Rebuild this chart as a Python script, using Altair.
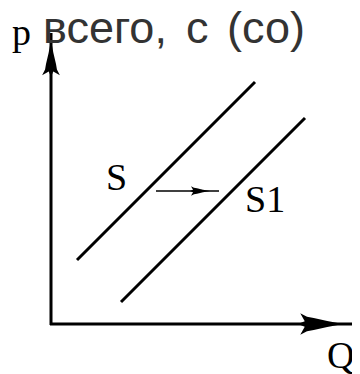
import altair as alt
import pandas as pd

# Schematic supply shift diagram (units: abstract Q / P)
seg_names = ["S", "S1", "axisP", "axisQ"]
seg_q1 = [1.3, 3.5, 0.0, -0.05]
seg_p1 = [3.2, 1.1, -0.05, 0.0]
seg_q2 = [10.2, 12.7, 0.0, 15.1]
seg_p2 = [12.1, 10.3, 14.55, 0.0]

shift_q1 = [5.25]
shift_p1 = [6.65]
shift_q2 = [8.4]
shift_p2 = [6.65]

head_names = ["Q", "P", "shift"]
head_q = [13.475, 0.0, 7.45]
head_p = [0.0, 13.275, 6.65]
head_size = [2025, 1369, 400]
head_angle = [0, 270, 0]

label_text = ["S", "S1", "Q", "p"]
label_q = [2.75, 9.7, 13.8, -1.95]
label_p = [6.7, 5.6, -2.2, 13.95]

# title "всего, с (со)" in three word pieces
title_text = ["всего,", "с", "(со)"]
title_q = [-0.4, 6.75, 8.8]
title_p = [14.05, 14.05, 14.05]

W, H = 344, 366
xs = alt.Scale(domain=[-2.15, 15.05], nice=False, zero=False)
ys = alt.Scale(domain=[-2.5, 15.8], nice=False, zero=False)

segs = pd.DataFrame({"name": seg_names, "q1": seg_q1, "p1": seg_p1, "q2": seg_q2, "p2": seg_p2})
shift = pd.DataFrame({"q1": shift_q1, "p1": shift_p1, "q2": shift_q2, "p2": shift_p2})
heads = pd.DataFrame({"name": head_names, "q": head_q, "p": head_p, "size": head_size, "angle": head_angle})
labels = pd.DataFrame({"text": label_text, "q": label_q, "p": label_p})
titles = pd.DataFrame({"text": title_text, "q": title_q, "p": title_p})

ARROW = ("M1,0 L0.3,-0.13 L-0.3,-0.27 L-0.6,-0.32 L-0.9,-0.48 L-0.7,-0.12 L-1,0 "
         "L-0.7,0.12 L-0.9,0.48 L-0.6,0.32 L-0.3,0.27 L0.3,0.13 Z")

lines = alt.Chart(segs).mark_rule(color="black", strokeWidth=3).encode(
    x=alt.X("q1:Q", scale=xs, axis=None),
    y=alt.Y("p1:Q", scale=ys, axis=None),
    x2="q2:Q",
    y2="p2:Q",
)

shift_line = alt.Chart(shift).mark_rule(color="black", strokeWidth=1.5).encode(
    x=alt.X("q1:Q", scale=xs, axis=None),
    y=alt.Y("p1:Q", scale=ys, axis=None),
    x2="q2:Q",
    y2="p2:Q",
)

arrowheads = alt.Chart(heads).mark_point(shape=ARROW, filled=True, color="black", opacity=1, strokeWidth=0).encode(
    x=alt.X("q:Q", scale=xs, axis=None),
    y=alt.Y("p:Q", scale=ys, axis=None),
    size=alt.Size("size:Q", scale=None, legend=None),
    angle=alt.Angle("angle:Q", scale=None),
)

text_labels = alt.Chart(labels).mark_text(
    font="Liberation Serif", fontSize=38, align="left", baseline="alphabetic", color="black"
).encode(
    x=alt.X("q:Q", scale=xs, axis=None),
    y=alt.Y("p:Q", scale=ys, axis=None),
    text="text:N",
)

title = alt.Chart(titles).mark_text(
    font="Liberation Sans", fontSize=45, align="left", baseline="alphabetic", color="#333333"
).encode(
    x=alt.X("q:Q", scale=xs, axis=None),
    y=alt.Y("p:Q", scale=ys, axis=None),
    text="text:N",
)

chart = alt.layer(lines, shift_line, arrowheads, text_labels, title).properties(
    width=W, height=H, padding=0, autosize=alt.AutoSizeParams(type="none"),
).configure_view(stroke=None)

chart.save("out.html", embed_options={"renderer": "svg", "actions": False})
